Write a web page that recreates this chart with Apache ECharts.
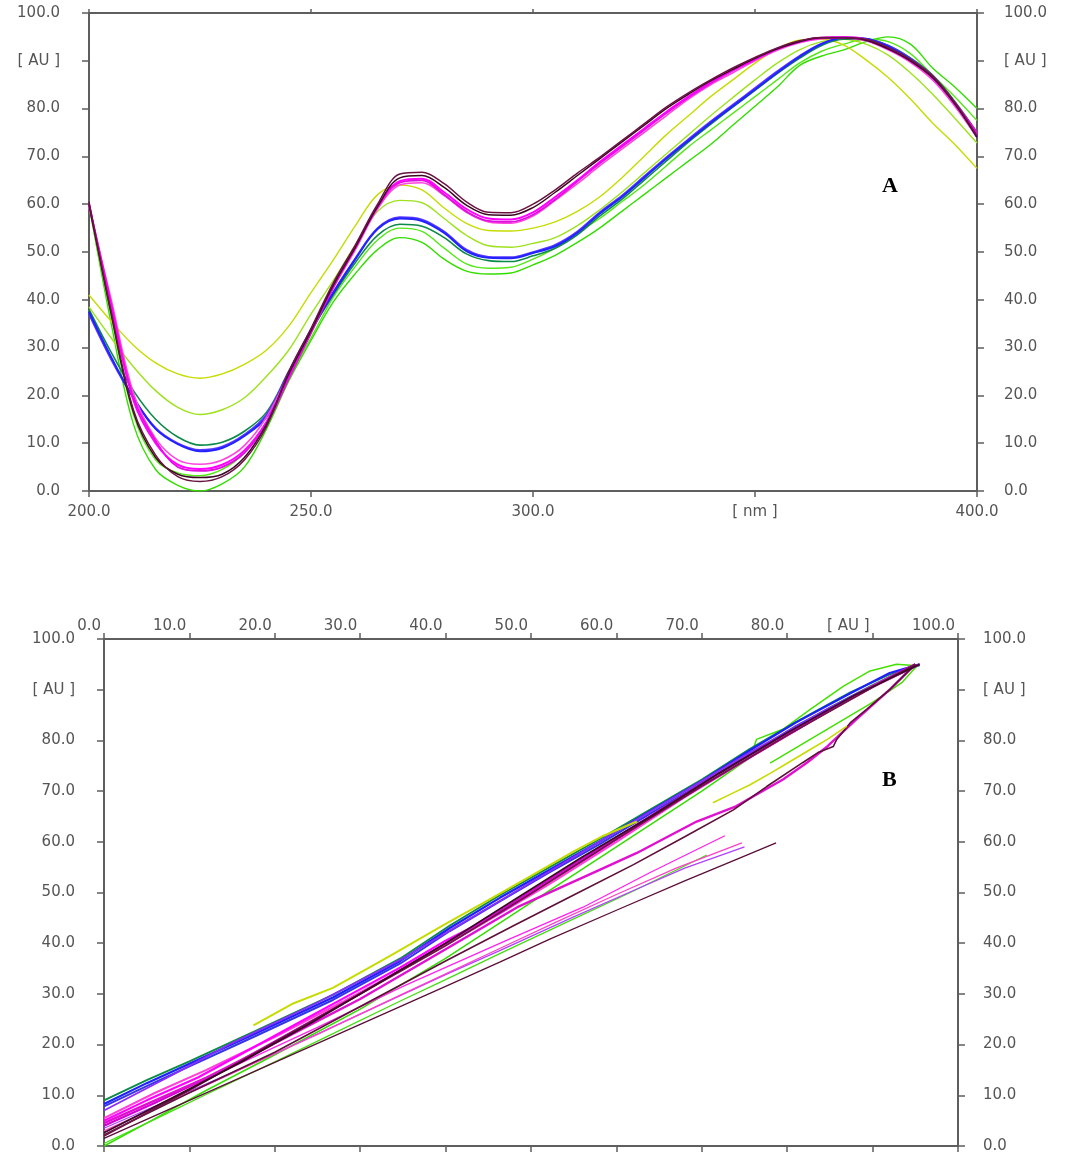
<!DOCTYPE html>
<html>
<head>
<meta charset="utf-8">
<script src="https://cdn.jsdelivr.net/npm/echarts/dist/echarts.min.js"></script>
<style>
  html, body { margin: 0; padding: 0; background: #ffffff; }
  #chart { width: 1070px; height: 1158px; }
</style>
</head>
<body>
<div id="chart"></div>
<script>
// ---- Panel A: absorbance spectra (wavelength in nm, absorbance in AU) ----
const wavelengthNm = [200,205,210,215,220,225,230,235,240,245,250,255,260,265,270,275,280,285,290,295,
                      300,305,310,315,320,325,330,335,340,345,350,355,360,365,370,375,380,385,390,395,400];

const magentaA = [60,39,19,10,5.5,4.6,5.5,8.5,14.5,24,33.5,43,51,59.5,64.8,65.3,62.5,59,57,56.8,
                  58.3,61.5,65,68.8,72.3,75.8,79.3,82.5,85.5,88,90.3,92.5,94,94.8,94.8,94.3,92.5,90,86.5,81,74.5];
const pinkA    = [59.5,40,20.5,11,6.5,5.6,6.5,9.5,15.5,24.5,33.5,42.5,50.5,59,64,64.5,61.8,58.3,56.3,56,
                  57.5,60.8,64.3,68,71.5,75,78.5,82,85,87.5,90,92.2,93.8,94.6,94.8,94.2,92.3,89.7,86,80.5,74];
const fuchsiaA = [60,38.5,19.5,10.5,5,4.2,5,8,14,23.5,33,42.5,51,59.5,64.5,65,62,58.5,56.5,56.3,
                  57.8,61,64.8,68.5,72,75.5,79,82.3,85.3,88,90.3,92.5,94,94.8,95,94.5,92.7,90.2,86.8,81.3,75];
const maroonA  = [60.5,37.5,17,7.5,3,2,3,6.5,13.5,25,34,43.5,51.5,60,66.3,66.7,64.3,60.5,58.3,58.2,
                  60,63,66.5,69.8,73.3,76.8,80.3,83.3,86,88.5,90.7,92.7,94.2,94.9,94.8,94.5,92.8,90.3,86.8,81.3,74.3];
const darkA    = [60,37,16.5,7,3.5,2.8,3.5,7,14,24.5,33.5,43,51,59.5,65.5,66,63.5,59.8,57.8,57.7,
                  59.3,62.5,66,69.5,73,76.5,80,83,85.8,88.2,90.5,92.5,94,94.8,94.8,94.3,92.5,90,86.5,81,74];
const blueA    = [37.5,28,19.5,13,9.8,8.3,9,11.5,15.5,24.5,33.5,41.4,48.5,54.8,57,56.5,54,50.2,48.8,48.7,
                  49.8,51.2,54,58,61.5,65.5,69.5,73.3,77,80.5,84,87.5,90.8,93.5,94.8,94.6,93,90.3,86.5,81,74];
const violetA  = [37,27.5,19.5,13.2,10,8.6,9.3,11.8,16,25,33.8,41.6,48.7,55,57.3,56.8,54.3,50.5,49,48.9,
                  50,51.5,54.3,58.3,61.8,65.8,69.8,73.6,77.3,80.8,84.3,87.8,91,93.6,94.8,94.6,93.2,90.5,86.8,81.2,74.2];
const tealA    = [38,29,21,15,11.3,9.6,10.2,12.5,16.5,25,33.5,41,47.8,53.5,55.8,55.4,53,49.6,48.2,48,
                  49.2,50.8,53.6,57.5,61,65,69,73,76.7,80.3,83.8,87.3,90.5,93.2,94.5,94.5,93.2,90.6,87,81.5,75];
const yellowA  = [41,35.5,30.5,26.8,24.5,23.6,24.5,26.5,29.5,34.5,41.5,48.3,55.5,62,64,63,59.2,56,54.5,54.4,
                  55,56.3,58.5,61.5,65.5,70,74.5,78.5,82.5,86,89.5,92.5,94.3,94.5,93.3,90.2,86.5,82,77,72.5,67.5];
const limeA    = [38.5,32,26,21,17.5,16,17,19.5,24,29.5,37,44,51.5,58.5,60.8,60.3,57,53.5,51.3,51,
                  51.8,53,55.5,58.8,62.5,66.5,70.5,74.5,78.5,82.3,86,89.5,92.3,94,94.5,93.5,91.2,87.5,83,78,72.8];
const greenA   = [60,35,14,4.5,1.2,0,1.5,5,13,23,31.5,39.5,45.5,50.5,53,52,48.5,46,45.4,45.6,
                  47.3,49.3,52,55,58.5,62,65.5,69,72.5,76.5,80.5,84.5,89,91,92.3,94,95,93.5,88.5,84.5,80];
const green2A  = [59.5,36.5,16,6.5,3.8,3.2,4.5,8,14.5,23.5,32,40.5,47,52.5,55,54.3,50.8,47.5,46.6,46.8,
                  48.5,50.8,54,57,60.5,64,68,72,75.5,79,82.5,86,89.5,92,93.5,94.5,94,91.5,87,82.5,77.5];

// ---- Panel B: purity plot, sample absorbance against reference absorbance (AU) ----
const greenP      = [[0,0],[5,4.5],[12,11],[20,18],[30,27],[40,37],[50,48],[60,59],[70,70],[76,77],[80,81.5],[85,86.5],[90,91],[95,95]];
const greenLowP   = [[0,0.5],[6,5.3],[12,10.2],[20,16.6],[27,22.3],[34.7,28.6],[40,32.8],[46.4,38],[54,44],[62,50.3],[70.6,57.4]];
const greenLoopP  = [[66,67.5],[70,71.5],[74,75.8],[76,78.2],[76.4,80.2],[79.5,82.2],[82.7,86.1],[86.6,90.7],[89.7,93.7],[92.8,95],
                     [95.2,94.7],[93.5,91.5],[90,87.5],[86,83.5],[82,79.5],[78,75.5]];
const yellowP1    = [[17.5,23.8],[22,28],[26.8,31.2],[30,34.2],[33.5,37.5],[40,43.8],[45,48.5],[50,53.3],[54.9,58],[58.5,61.2],[62.4,64]];
const yellowP2    = [[71.3,67.7],[73.5,69.5],[75.6,71.2],[78,73.5],[80,75.5],[82.5,78],[84.7,80.2],[87,82.8]];
const blueP1      = [[0,8.3],[5,12.4],[10,16.2],[17.5,22],[26.8,29.3],[34.7,36.5],[40.5,43],[46.4,49],[52.2,54.5],[58,60],[63.9,66],[70,72],[75.6,78],[81,83.5],[87.4,89.3],[92,93.3],[95.5,95]];
const blueP2      = [[0,7.8],[5,11.8],[10,15.7],[17.5,21.5],[26.8,28.8],[34.7,36],[40.5,42.4],[46.4,48.3],[52.2,54],[58,59.5],[63.9,65.5],[70,71.5],[75.6,77.2],[81,82.8],[87.4,88.6],[92,92.5],[95.5,95]];
const tealP       = [[0,9],[5,13],[10,16.7],[17.5,22.5],[26.8,29.8],[34.7,37],[40.5,43.5],[46.4,49.5],[52.2,55],[58,60.5],[63.9,66.3],[70,72.3],[75.6,78.3],[81,83.6],[87.4,89.5],[92,93],[95.5,94.8]];
const violetP     = [[0,7],[8,14],[15,20.3],[25,28.3],[35,37],[45,47],[55,57],[65,67],[75,77],[85,86.5],[95.5,95]];
const pinkLowP1   = [[0,4],[6,8.6],[12,13.2],[20,19.5],[25,23.4],[35,31.5],[47.2,40.6],[56.1,47.1],[63.9,53.9],[68,57.3],[72.7,61.2]];
const pinkLowP2   = [[0,3],[6,7.5],[12,12],[20,18.2],[25,22],[35,30],[46.4,39],[53,44.2],[60,49.6],[67,54.8],[74.7,59.8]];
const violetLowP  = [[0,3.5],[10,10.8],[20,18.2],[30,26],[40,33.8],[46.4,38.6],[55,45.2],[62,50.4],[68,54.8],[75,59]];
const magentaP    = [[0,5],[5,9],[11,13.5],[17,19],[23,24.5],[29,30],[34.7,35.2],[40,40.5],[46.4,46],[52,52],[58,58.3],[64,64.8],[70,71],[76,77],[82,83],[88,89],[95,95]];
const pinkP       = [[0,5.5],[6,10.5],[12,15],[20,21.5],[28,28.5],[36,35.8],[44,43.5],[52,51.5],[60,60],[68,68.8],[76,77],[84,85],[90,90.5],[95.5,95]];
const fuchsiaP    = [[0,4],[6,8.5],[14,15],[22,22.5],[30,30],[38,38],[46,46],[54,54.5],[62,63],[70,71.5],[78,79.5],[86,87],[95,95]];
const magentaBandP= [[0,4.5],[6,9],[12,13.5],[20,20.3],[30,29],[40,38.8],[48.4,47.1],[58.1,54.5],[62.4,57.8],[66,61],[69.4,64],[74,67],
                     [79.5,72.3],[82.3,75.6],[84.7,78.8],[88,84],[92,90],[95,95]];
const maroonLowP  = [[0,1.5],[10,9],[20,16.5],[30,24],[40,31.5],[46.4,36.3],[52.2,40.8],[60,46.5],[68,52.3],[74,56.5],[78.7,59.8]];
const maroonJagP  = [[0,2.2],[10,10.5],[20,18.5],[30,27.5],[40,36.5],[48,43.5],[55,49.5],[62,55.5],[68,61],[73.7,66.3],[77.6,70.9],
                     [81.8,75.6],[83.6,77.6],[85.4,78.8],[85.8,80.2],[87.4,83.5],[89.3,86.1],[92,90],[95,95]];
const maroonP     = [[0,2],[10,11],[20,20.5],[30,30],[40,39.5],[50,49.8],[60,60.5],[70,71],[80,81],[90,90.5],[95,95]];
const darkP       = [[0,2.6],[8,9.5],[16,16.5],[24,24],[32,32],[40,40],[48,48.5],[56,57],[64,65],[72,73.5],[80,81.5],[88,89],[95.5,95]];

// ---- Tick labels ----
const auTickLabel = '[ AU ]';
const nmTickLabel = '[ nm ]';

const AXIS_COLOR = '#5e5e5e';
const LABEL_COLOR = '#555555';
const FONT = 'DejaVu Sans';

function fmtAU(v) { return v === 90 ? auTickLabel : v.toFixed(1); }
function fmtNm(v) { return v === 350 ? nmTickLabel : v.toFixed(1); }

function baseAxis(extra) {
  const ax = {
    type: 'value',
    axisLine: { show: true, onZero: false, lineStyle: { color: AXIS_COLOR, width: 2 } },
    axisTick: { show: true, inside: false, length: 6, lineStyle: { color: AXIS_COLOR, width: 1.5 } },
    splitLine: { show: false },
    axisLabel: { show: true, color: LABEL_COLOR, fontFamily: FONT, fontSize: 15, showMinLabel: true, showMaxLabel: true }
  };
  return Object.assign(ax, extra, {
    axisLabel: Object.assign(ax.axisLabel, extra.axisLabel || {}),
    axisTick: Object.assign(ax.axisTick, extra.axisTick || {})
  });
}

function spectrum(values, color, width) {
  return {
    type: 'line', xAxisIndex: 0, yAxisIndex: 0,
    data: wavelengthNm.map((w, i) => [w, values[i]]),
    showSymbol: false, symbol: 'none', smooth: 0.35,
    lineStyle: { color: color, width: width || 1.4 },
    emphasis: { disabled: true }, silent: true, z: 3
  };
}

function purity(points, color, width) {
  return {
    type: 'line', xAxisIndex: 2, yAxisIndex: 2,
    data: points,
    showSymbol: false, symbol: 'none', smooth: false,
    lineStyle: { color: color, width: width || 1.5 },
    emphasis: { disabled: true }, silent: true, z: 3
  };
}

const chart = echarts.init(document.getElementById('chart'), null, { renderer: 'canvas' });

chart.setOption({
  animation: false,
  backgroundColor: '#ffffff',
  grid: [
    { left: 89, top: 13, right: 93, bottom: 667 },
    { left: 104, top: 639, right: 112, bottom: 12 }
  ],
  xAxis: [
    baseAxis({ gridIndex: 0, position: 'bottom', min: 200, max: 400, interval: 50,
               axisLabel: { formatter: fmtNm, margin: 14 } }),
    baseAxis({ gridIndex: 0, position: 'top', min: 200, max: 400, interval: 50,
               axisLabel: { show: false }, axisTick: { length: 4 } }),
    baseAxis({ gridIndex: 1, position: 'top', min: 0, max: 100, interval: 10,
               axisLabel: { formatter: fmtAU, margin: 5, align: 'right', padding: [0, 3, 0, 0] } }),
    baseAxis({ gridIndex: 1, position: 'bottom', min: 0, max: 100, interval: 10,
               axisLabel: { show: false } })
  ],
  yAxis: [
    baseAxis({ gridIndex: 0, position: 'left', min: 0, max: 100, interval: 10,
               axisLabel: { formatter: fmtAU, margin: 29 }, axisTick: { length: 7 } }),
    baseAxis({ gridIndex: 0, position: 'right', min: 0, max: 100, interval: 10,
               axisLabel: { formatter: fmtAU, margin: 27 }, axisTick: { length: 7 } }),
    baseAxis({ gridIndex: 1, position: 'left', min: 0, max: 100, interval: 10,
               axisLabel: { formatter: fmtAU, margin: 29 }, axisTick: { length: 7 } }),
    baseAxis({ gridIndex: 1, position: 'right', min: 0, max: 100, interval: 10,
               axisLabel: { formatter: fmtAU, margin: 25 }, axisTick: { length: 7 } })
  ],
  graphic: [
    { type: 'text', left: 882, top: 175, silent: true,
      style: { text: 'A', fill: '#000', font: 'bold 22px "Liberation Serif", "DejaVu Serif", serif' } },
    { type: 'text', left: 882, top: 769, silent: true,
      style: { text: 'B', fill: '#000', font: 'bold 22px "Liberation Serif", "DejaVu Serif", serif' } }
  ],
  series: [
    // panel A
    spectrum(greenA, '#33dd00'),
    spectrum(green2A, '#55e818'),
    spectrum(limeA, '#9ee21e'),
    spectrum(yellowA, '#c6dc00'),
    spectrum(tealA, '#0c8a48', 1.6),
    spectrum(violetA, '#5a36ff', 1.8),
    spectrum(blueA, '#2222ff', 2.0),
    spectrum(pinkA, '#ff44dd', 1.6),
    spectrum(fuchsiaA, '#dd10dd', 1.8),
    spectrum(magentaA, '#ff00ff', 2.0),
    spectrum(darkA, '#3a0822', 1.5),
    spectrum(maroonA, '#6a1444', 1.5),
    // panel B
    purity(greenP, '#33dd00'),
    purity(greenLowP, '#44dd10', 1.3),
    purity(greenLoopP, '#44e000'),
    purity(tealP, '#0c8a48', 1.8),
    purity(blueP2, '#3434e8', 2.0),
    purity(blueP1, '#1e1eff', 2.2),
    purity(violetP, '#8a2cff', 1.8),
    purity(violetLowP, '#b040ff', 1.3),
    purity(pinkLowP1, '#ff22ee', 1.3),
    purity(pinkLowP2, '#ff40c8', 1.3),
    purity(pinkP, '#ff3fd6', 2.0),
    purity(fuchsiaP, '#d400d4', 2.0),
    purity(magentaP, '#ff00ff', 2.2),
    purity(magentaBandP, '#e010d0', 2.4),
    purity(maroonLowP, '#5a0e38', 1.3),
    purity(maroonJagP, '#5e103a', 1.6),
    purity(maroonP, '#6e1446', 1.8),
    purity(darkP, '#3d0826', 1.8),
    purity(yellowP1, '#c6dc00', 2.0),
    purity(yellowP2, '#c6dc00', 1.6)
  ]
});
</script>
</body>
</html>
